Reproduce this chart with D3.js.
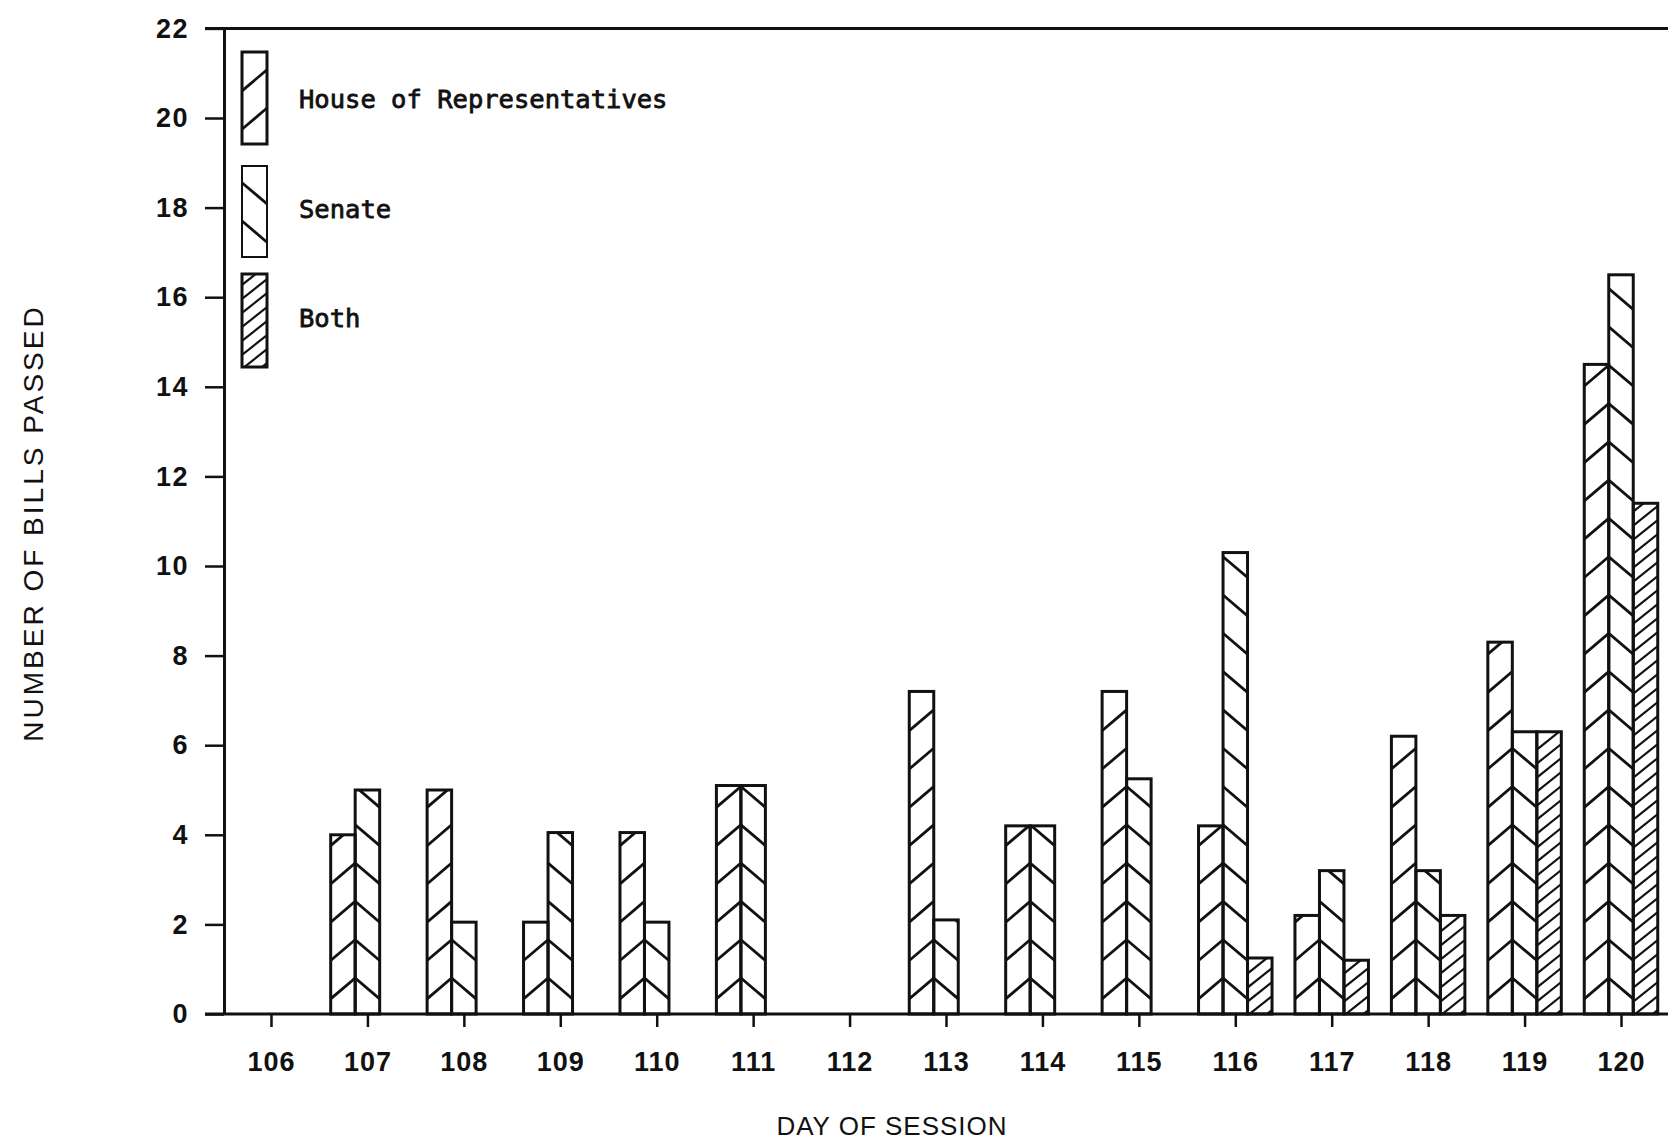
<!DOCTYPE html>
<html>
<head>
<meta charset="utf-8">
<script src="https://cdn.jsdelivr.net/npm/d3@7"></script>
<style>
  html, body { margin: 0; padding: 0; background: #ffffff; }
  svg { display: block; }
</style>
</head>
<body>
<svg id="chart" width="1668" height="1145"></svg>
<script>
// ---- data ----
const days = [106, 107, 108, 109, 110, 111, 112, 113, 114, 115, 116, 117, 118, 119, 120];
const houseBills  = [0, 4, 5, 2.05, 4.05, 5.1, 0, 7.2, 4.2, 7.2, 4.2, 2.2, 6.2, 8.3, 14.5];
const senateBills = [0, 5, 2.05, 4.05, 2.05, 5.1, 0, 2.1, 4.2, 5.25, 10.3, 3.2, 3.2, 6.3, 16.5];
const bothBills   = [0, 0, 0, 0, 0, 0, 0, 0, 0, 0, 1.25, 1.2, 2.2, 6.3, 11.4];
const yTicks = [0, 2, 4, 6, 8, 10, 12, 14, 16, 18, 20, 22];
const seriesNames = ["House of Representatives", "Senate", "Both"];
const xTitle = "DAY OF SESSION";
const yTitle = "NUMBER OF BILLS PASSED";

// ---- layout ----
const svg = d3.select("#chart");
const x = d3.scaleLinear().domain([106, 120]).range([271, 1621]);
const y = d3.scaleLinear().domain([0, 22]).range([1014, 28.4]);
const bw = (x(107) - x(106)) * 0.254;
const axisX = 224;
const ink = "#111";
const labelFont = "'Liberation Sans', Arial, sans-serif";

const series = [
  { key: "house",  values: houseBills,  offset: -1.5, hatch: "fwd" },
  { key: "senate", values: senateBills, offset: -0.5, hatch: "back" },
  { key: "both",   values: bothBills,   offset: 0.5,  hatch: "dense" }
];

const bars = [];
series.forEach(s => {
  s.values.forEach((v, i) => {
    if (v > 0) bars.push({ day: days[i], value: v, s });
  });
});

const defs = svg.append("defs");

function hatchLines(g, x0, yTop, w, yBase, type, id) {
  defs.append("clipPath").attr("id", id)
    .append("rect").attr("x", x0).attr("y", yTop).attr("width", w).attr("height", yBase - yTop);
  const lg = g.append("g").attr("clip-path", `url(#${id})`);
  let period, slope, sw, start;
  if (type === "dense") { period = 14; slope = 0.8; sw = 2.2; start = 4; }
  else { period = 38.3; slope = 0.85; sw = 2.8; start = 36; }
  const pts = [];
  for (let p = yBase - start + period; p > yTop - period; p -= period) pts.push(p);
  pts.forEach(p => {
    let x1, y1, x2, y2;
    if (type === "back") { x1 = x0; y1 = p; x2 = x0 + w; y2 = p + slope * w; }
    else { x1 = x0; y1 = p + slope * w; x2 = x0 + w; y2 = p; }
    lg.append("line").attr("x1", x1).attr("y1", y1).attr("x2", x2).attr("y2", y2)
      .attr("stroke", ink).attr("stroke-width", sw).attr("stroke-linecap", "butt");
  });
}

// ---- bars ----
const barG = svg.append("g");
bars.forEach((b, k) => {
  const x0 = x(b.day) + b.s.offset * bw;
  hatchLines(barG, x0, y(b.value), bw, y(0), b.s.hatch, "clipb" + k);
});
barG.selectAll("rect.bar").data(bars).join("rect")
  .attr("class", "bar")
  .attr("x", d => x(d.day) + d.s.offset * bw)
  .attr("y", d => y(d.value))
  .attr("width", bw)
  .attr("height", d => y(0) - y(d.value))
  .attr("fill", "none")
  .attr("stroke", ink)
  .attr("stroke-width", 3);

// ---- axes ----
const yAxis = d3.axisLeft(y).tickValues(yTicks).tickSize(19).tickSizeOuter(0).tickPadding(16);
const gy = svg.append("g").attr("transform", `translate(${axisX},0)`).call(yAxis);
gy.select(".domain").attr("stroke", ink).attr("stroke-width", 3);
gy.selectAll(".tick line").attr("stroke", ink).attr("stroke-width", 2.5);
gy.selectAll(".tick text")
  .attr("font-family", labelFont).attr("font-weight", "bold")
  .attr("font-size", 27).attr("letter-spacing", 1.5).attr("fill", ink);

const xAxis = d3.axisBottom(x).tickValues(days).tickFormat(d3.format("d"))
  .tickSize(13).tickSizeOuter(0).tickPadding(25);
const gx = svg.append("g").attr("transform", `translate(0,${y(0)})`).call(xAxis);
gx.select(".domain").remove();
gx.selectAll(".tick line").attr("stroke", ink).attr("stroke-width", 2.5);
gx.selectAll(".tick text")
  .attr("font-family", labelFont).attr("font-weight", "bold")
  .attr("font-size", 27).attr("letter-spacing", 1).attr("fill", ink);

// baseline and top line
svg.append("line").attr("x1", 205).attr("x2", 1668).attr("y1", y(0)).attr("y2", y(0))
  .attr("stroke", ink).attr("stroke-width", 3);
svg.append("line").attr("x1", 205).attr("x2", 1668).attr("y1", y(22)).attr("y2", y(22))
  .attr("stroke", ink).attr("stroke-width", 3);

// ---- titles ----
svg.append("text").attr("x", 892).attr("y", 1135).attr("text-anchor", "middle")
  .attr("font-family", labelFont).attr("font-size", 26).attr("letter-spacing", 1)
  .attr("fill", ink).text(xTitle);
svg.append("text").attr("transform", "translate(43,523) rotate(-90)").attr("text-anchor", "middle")
  .attr("font-family", labelFont).attr("font-size", 28).attr("letter-spacing", 3)
  .attr("fill", ink).text(yTitle);

// ---- legend ----
const legendBoxes = [
  { name: seriesNames[0], hatch: "fwd",   y0: 52,  y1: 144, ty: 108 },
  { name: seriesNames[1], hatch: "back",  y0: 166, y1: 257, ty: 218 },
  { name: seriesNames[2], hatch: "dense", y0: 274, y1: 367, ty: 327 }
];
const lgG = svg.append("g");
legendBoxes.forEach((l, k) => {
  hatchLines(lgG, 242, l.y0, 25, l.y1, l.hatch, "clipl" + k);
  lgG.append("rect").attr("x", 242).attr("y", l.y0).attr("width", 25).attr("height", l.y1 - l.y0)
    .attr("fill", "none").attr("stroke", ink).attr("stroke-width", k === 1 ? 2 : 3);
  lgG.append("text").attr("x", 299).attr("y", l.ty)
    .attr("font-family", "'DejaVu Sans Mono', monospace").attr("font-size", 25.5)
    .attr("fill", ink).attr("stroke", ink).attr("stroke-width", 0.8).text(l.name);
});
</script>
</body>
</html>
